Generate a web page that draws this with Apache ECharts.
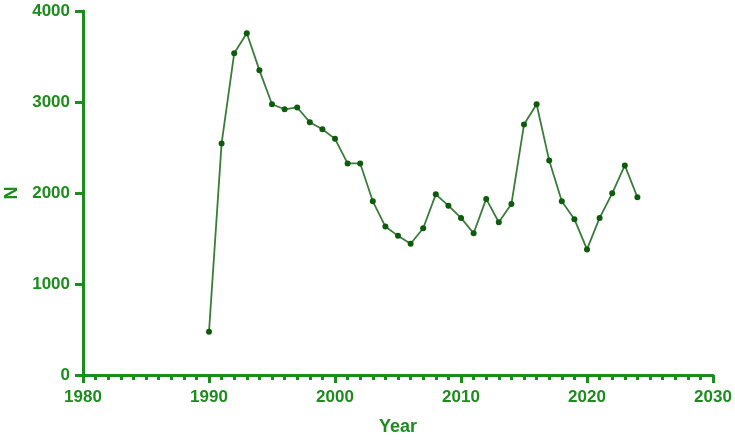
<!DOCTYPE html>
<html>
<head>
<meta charset="utf-8">
<script src="https://cdn.jsdelivr.net/npm/echarts@6/dist/echarts.min.js"></script>
<style>
  html, body { margin: 0; padding: 0; background: #fff; }
  #chart { width: 735px; height: 441px; }
</style>
</head>
<body>
<div id="chart"></div>
<script>
  const years = [1990, 1991, 1992, 1993, 1994, 1995, 1996, 1997, 1998, 1999,
    2000, 2001, 2002, 2003, 2004, 2005, 2006, 2007, 2008, 2009,
    2010, 2011, 2012, 2013, 2014, 2015, 2016, 2017, 2018, 2019,
    2020, 2021, 2022, 2023, 2024]
  const counts = [475, 2545, 3535, 3755, 3350, 2975, 2920, 2940, 2778, 2700,
    2595, 2325, 2325, 1909, 1631, 1529, 1442, 1613, 1985, 1861,
    1726, 1558, 1935, 1679, 1878, 2752, 2975, 2356, 1909, 1712,
    1380, 1726, 1996, 2303, 1953]
  const xTicks = [1980, 2030, 10]
  const yTicks = [0, 4000, 1000]

  const green = "#1c8c1c"

  const options = {
    animation: false,
    grid: {
      left: 83,
      right: 22,
      top: 11,
      bottom: 66,
      containLabel: false,
      outerBoundsMode: "none",
    },
    xAxis: {
      type: "value",
      min: xTicks[0],
      max: xTicks[1],
      interval: xTicks[2],
      name: "Year",
      nameLocation: "middle",
      nameGap: 43,
      nameTextStyle: {
        color: green,
        fontFamily: "Liberation Sans",
        fontWeight: "bold",
        fontSize: 18,
      },
      splitLine: { show: false },
      axisLine: { lineStyle: { color: green, width: 3 } },
      axisTick: { length: 8, lineStyle: { color: green, width: 3 } },
      minorTick: { show: true, splitNumber: 10, length: 5, lineStyle: { color: green, width: 3 } },
      axisLabel: {
        margin: 14,
        color: green,
        fontFamily: "Liberation Sans",
        fontWeight: "bold",
        fontSize: 17,
        hideOverlap: false,
        formatter: (v) => String(v),
      },
    },
    yAxis: {
      type: "value",
      min: yTicks[0],
      max: yTicks[1],
      interval: yTicks[2],
      name: "N",
      nameLocation: "middle",
      nameGap: 62,
      nameRotate: 90,
      nameTextStyle: {
        color: green,
        fontFamily: "Liberation Sans",
        fontWeight: "bold",
        fontSize: 18,
      },
      splitLine: { show: false },
      axisLine: { show: true, lineStyle: { color: green, width: 3 } },
      axisTick: { show: true, length: 8, lineStyle: { color: green, width: 3 } },
      axisLabel: {
        margin: 13,
        color: green,
        fontFamily: "Liberation Sans",
        fontWeight: "bold",
        fontSize: 17,
        formatter: (v) => String(v),
      },
    },
    series: [
      {
        type: "line",
        data: years.map((y, i) => [y, counts[i]]),
        symbol: "circle",
        symbolSize: 6,
        lineStyle: { color: "#3a7d3a", width: 1.8 },
        itemStyle: { color: "#0d5c0d" },
      },
    ],
  }

  let dom = document.getElementById("chart")
  let myChart = echarts.init(dom)
  myChart.setOption(options)
</script>
</body>
</html>
